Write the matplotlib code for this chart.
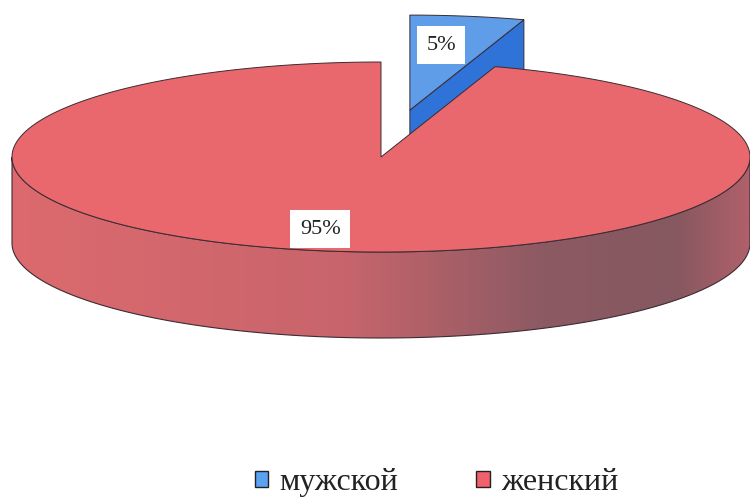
import numpy as np
import matplotlib.pyplot as plt
from matplotlib.patches import Polygon, Rectangle
from matplotlib.colors import LinearSegmentedColormap

# data
labels = ['мужской', 'женский']
values = [5, 95]
pct_labels = ['5%', '95%']
top_colors = ['#5f9de8', '#e8686e']
side_colors = ['#2f72d8', '#d4666c']
legend_colors = ['#5aa2f2', '#f0616c']

# geometry of the flat 3d pie (pixel units)
cx, cy = 381, 157
rx, ry = 369, 95
depth = 86
explode = [0.5, 0.0]
label_r = [0.68, 0.76]
label_nudge = [(-8, -1), (-17, 1)]
edge = '#3b2b33'

plt.rcParams['font.family'] = ['Liberation Serif', 'DejaVu Serif']

fig = plt.figure(figsize=(7.5, 4.99), dpi=100)
ax = fig.add_axes([0, 0, 1, 1])
ax.axis('off')


def pt(t, ox, oy, z=0.0):
    t = np.radians(t)
    return np.column_stack([cx + ox + rx * np.cos(t), cy + oy - ry * np.sin(t) + z])


side_cmap = LinearSegmentedColormap.from_list(
    'side', [(0, '#dc6a6e'), (0.45, '#c8656c'), (0.72, '#8c5a63'),
             (0.9, '#86585f'), (1, '#b0606a')])

total = sum(values)
start = 90.0
for i, v in enumerate(values):
    t1 = start
    t2 = start - v * 360.0 / total
    start = t2
    mid = (t1 + t2) / 2
    ox = explode[i] * rx * np.cos(np.radians(mid))
    oy = -explode[i] * ry * np.sin(np.radians(mid))
    c = np.array([cx + ox, cy + oy])

    # radial faces that face the viewer
    if np.cos(np.radians(t2)) > 1e-6:
        a = pt(t2, ox, oy)[0]
        poly = [c, a, a + [0, depth], c + [0, depth]]
        ax.add_patch(Polygon(poly, closed=True, fc=side_colors[i], ec=edge, lw=0.7))
    if np.cos(np.radians(t1)) < -1e-6:
        a = pt(t1, ox, oy)[0]
        poly = [c, a, a + [0, depth], c + [0, depth]]
        ax.add_patch(Polygon(poly, closed=True, fc=side_colors[i], ec=edge, lw=0.7))

    # outer (front) side
    ts = np.linspace(t1, t2, 1441)
    front = ts[np.sin(np.radians(ts)) < 0]
    if len(front) > 1:
        upper = pt(front, ox, oy)
        lower = pt(front[::-1], ox, oy, depth)
        side = Polygon(np.vstack([upper, lower]), closed=True, fc='none', ec=edge, lw=0.8)
        ax.add_patch(side)
        if i == 1:
            grad = ax.imshow(np.linspace(0, 1, 256)[None, :], cmap=side_cmap, aspect='auto',
                             extent=(cx - rx, cx + rx, cy + ry + depth + 10, cy - 10),
                             zorder=side.get_zorder() - 0.1)
            grad.set_clip_path(side)
        else:
            side.set_facecolor(side_colors[i])

    # top face
    arc = pt(ts, ox, oy)
    ax.add_patch(Polygon(np.vstack([[c], arc]), closed=True, fc=top_colors[i],
                         ec=edge, lw=0.7, zorder=1.5 + i))

    # percentage label
    lx = c[0] + label_r[i] * rx * np.cos(np.radians(mid)) + label_nudge[i][0]
    ly = c[1] - label_r[i] * ry * np.sin(np.radians(mid)) + label_nudge[i][1]
    ax.text(lx, ly, pct_labels[i], ha='center', va='center', fontsize=16, color='#222222',
            zorder=5, bbox=dict(boxstyle='square,pad=0.42', fc='white', ec='none'))

handles = [Rectangle((0, 0), 1, 1, fc=col, ec='#222222', lw=1.0) for col in legend_colors]
ax.legend(handles, labels, loc='lower center', bbox_to_anchor=(0.582, -0.054), ncol=2,
          frameon=False, fontsize=23, handlelength=0.42, handleheight=0.42,
          handletextpad=0.35, columnspacing=2.45, labelcolor='#222222')

ax.set_xlim(0, 750)
ax.set_ylim(499, 0)
fig.savefig('out.png', dpi=100)
